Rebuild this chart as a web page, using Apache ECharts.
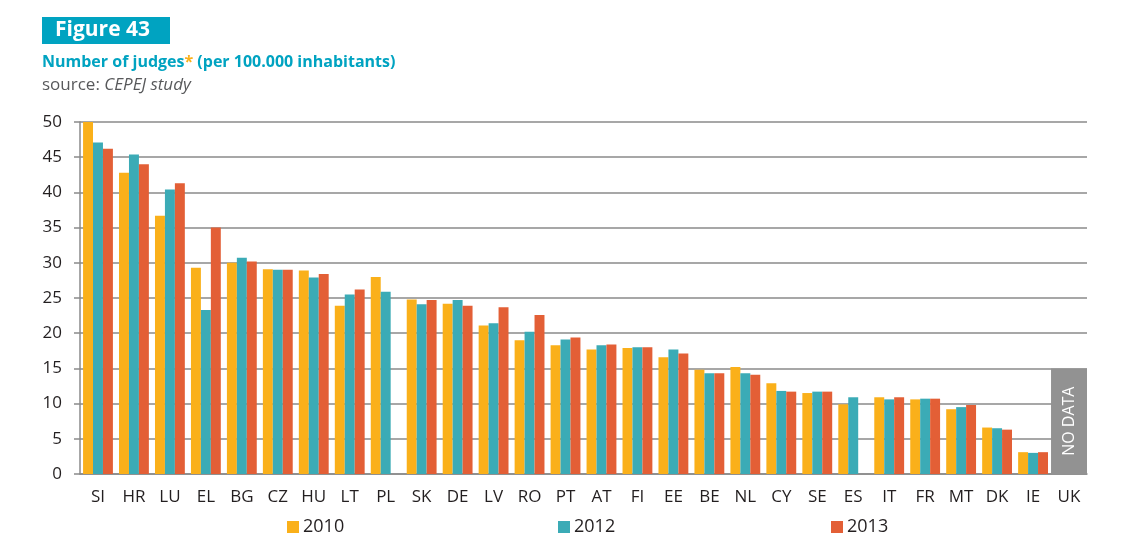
<!DOCTYPE html>
<html><head><meta charset="utf-8">
<script src="https://cdn.jsdelivr.net/npm/echarts@6/dist/echarts.min.js"></script>
<style>html,body{margin:0;padding:0;background:#fff}#c{width:1130px;height:545px}</style>
</head><body><div id="c"></div>
<script>
const categories = ['SI','HR','LU','EL','BG','CZ','HU','LT','PL','SK','DE','LV','RO','PT','AT','FI','EE','BE','NL','CY','SE','ES','IT','FR','MT','DK','IE','UK'];
const y2010 = [50.0,42.8,36.7,29.3,30.0,29.1,28.9,23.9,28.0,24.8,24.2,21.1,19.0,18.3,17.7,17.9,16.6,14.8,15.2,12.9,11.5,9.9,10.9,10.6,9.2,6.6,3.1,null];
const y2012 = [47.1,45.4,40.4,23.3,30.7,29.0,27.9,25.5,25.9,24.1,24.7,21.4,20.2,19.1,18.3,18.0,17.7,14.3,14.3,11.8,11.7,10.9,10.6,10.7,9.5,6.5,3.0,null];
const y2013 = [46.2,44.0,41.3,35.0,30.2,29.0,28.4,26.2,null,24.7,23.9,23.7,22.6,19.4,18.4,18.0,17.1,14.3,14.1,11.7,11.7,null,10.9,10.7,9.8,6.3,3.1,null];
const noData = [null,null,null,null,null,null,null,null,null,null,null,null,null,null,null,null,null,null,null,null,null,null,null,null,null,null,null,15];
const yTicks = [0,5,10,15,20,25,30,35,40,45,50];

const FONT = '"Open Sans", "DejaVu Sans", sans-serif';
const C10 = '#FAB01A', C12 = '#3BABB6', C13 = '#E35F36';
const chart = echarts.init(document.getElementById('c'), null, {renderer:'canvas'});
const legendBase = {top: 518, padding:0, itemWidth: 12, itemHeight: 12, itemGap: 0,
  textStyle:{fontFamily:FONT, fontSize:18, color:'#231f20', padding:[0,0,0,-1]}, icon:'rect'};
chart.setOption({
  animation:false,
  textStyle:{fontFamily:FONT},
  graphic:[
    {type:'rect', shape:{x:42,y:17,width:128,height:27}, style:{fill:'#00A3C1'}},
    {type:'text', x:55, y:30.5, style:{text:'Figure 43', fill:'#fff', font:'bold 21px '+FONT, verticalAlign:'middle'}},
    {type:'text', x:42, y:62, style:{text:'{a|Number of judges}{s|*}{a| (per 100.000 inhabitants)}', verticalAlign:'middle',
      rich:{a:{fill:'#00A3C1', font:'bold 16px '+FONT}, s:{fill:'#FAB01A', font:'bold 16px '+FONT}}}},
    {type:'text', x:42, y:85, style:{text:'{a|source: }{b|CEPEJ study}', verticalAlign:'middle',
      rich:{a:{fill:'#58595b', font:'17px '+FONT}, b:{fill:'#58595b', font:'italic 17px '+FONT}}}}
  ],
  legend:[
    Object.assign({}, legendBase, {left:287, data:['2010']}),
    Object.assign({}, legendBase, {left:558, data:['2012']}),
    Object.assign({}, legendBase, {left:831, data:['2013']})
  ],
  grid:{left:80, right:43, top:122, bottom:71},
  xAxis:[{
    type:'category', data:categories,
    axisLine:{lineStyle:{color:'#8a8a8a', width:1.5}},
    axisTick:{alignWithLabel:false, length:7, lineStyle:{color:'#8a8a8a', width:1.5}},
    axisLabel:{color:'#231f20', fontSize:17, margin:15, fontFamily:FONT}
  },{
    type:'category', data:categories, show:false
  }],
  yAxis:{
    type:'value', min:0, max:50, interval:5,
    axisLine:{show:true, lineStyle:{color:'#8a8a8a', width:1.5}},
    axisTick:{show:true, length:6, lineStyle:{color:'#8a8a8a', width:1.5}},
    splitLine:{lineStyle:{color:'#8a8a8a', width:1.5}},
    axisLabel:{color:'#231f20', fontSize:17, margin:18, fontFamily:FONT,
      formatter:v => yTicks.includes(v) ? String(v) : ''}
  },
  series:[
    {name:'2010', type:'bar', data:y2010, itemStyle:{color:C10}, barGap:'0%', barCategoryGap:'17%'},
    {name:'2012', type:'bar', data:y2012, itemStyle:{color:C12}},
    {name:'2013', type:'bar', data:y2013, itemStyle:{color:C13}},
    {name:'NO DATA', type:'bar', xAxisIndex:1, data:noData, barWidth:'100%', itemStyle:{color:'#929292'},
      label:{show:true, position:'inside', rotate:90, formatter:'NO DATA', color:'#fff', fontSize:16, fontFamily:FONT}}
  ]
});
</script></body></html>
